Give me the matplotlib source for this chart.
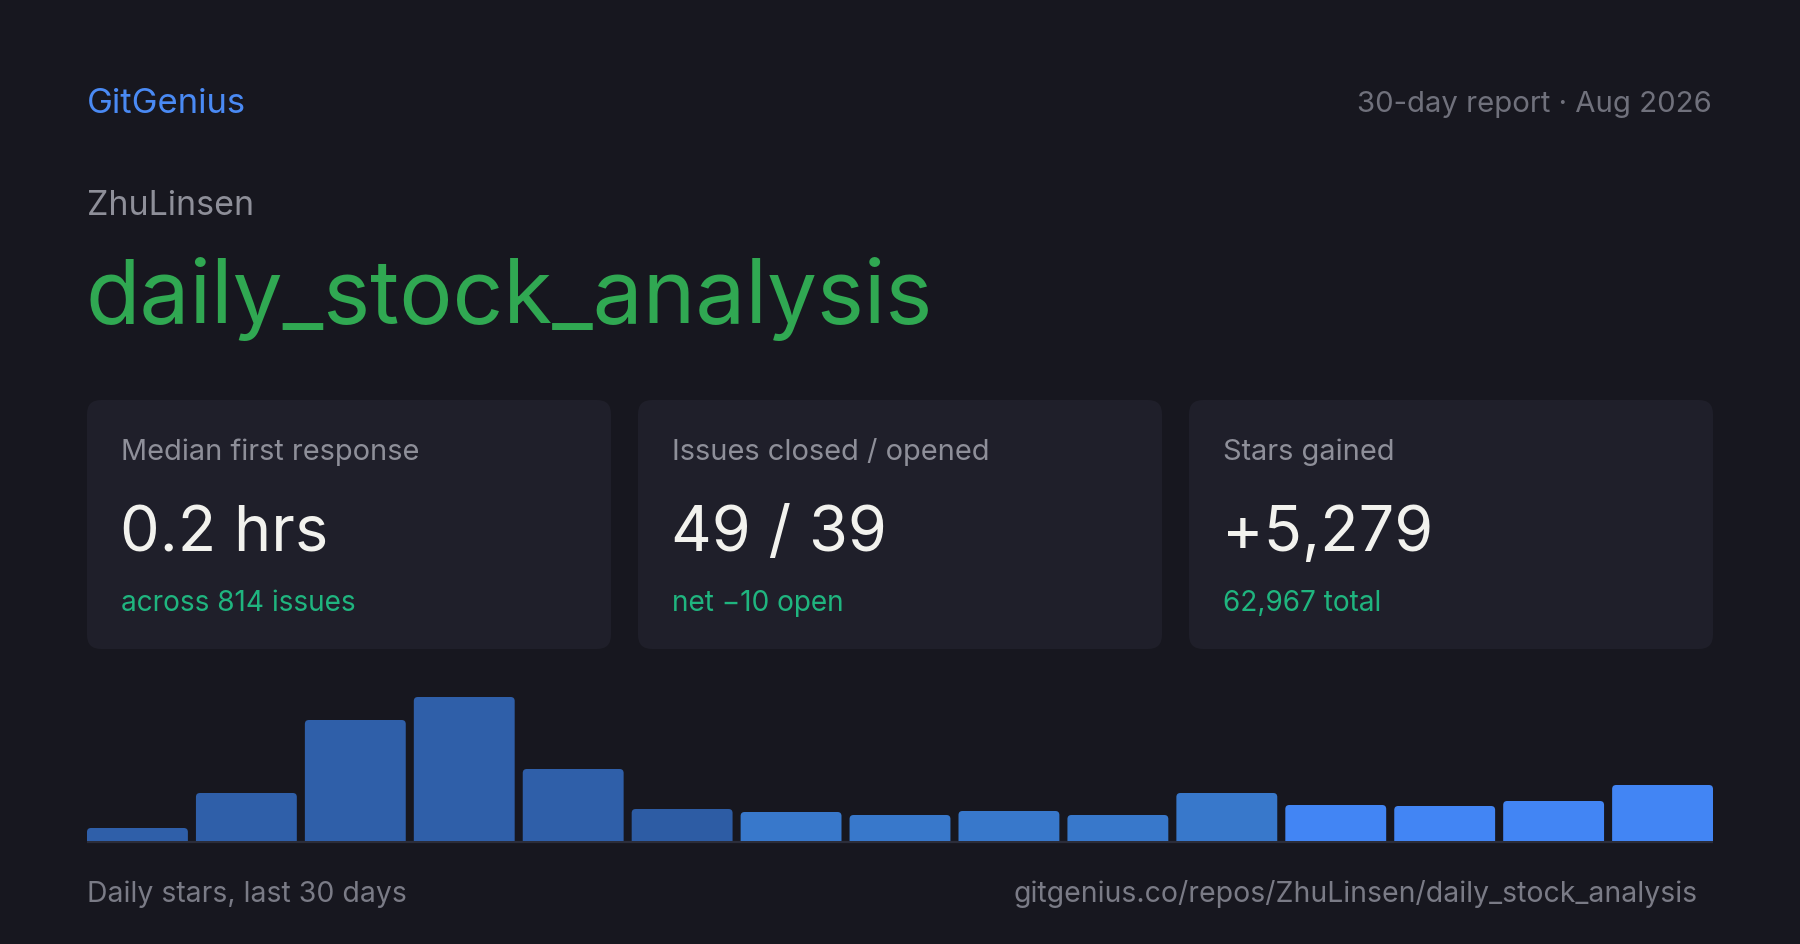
import matplotlib.pyplot as plt
from matplotlib.patches import FancyBboxPatch

# ---- data ----
owner = "ZhuLinsen"
repo = "daily_stock_analysis"
card_labels = ["Median first response", "Issues closed / opened", "Stars gained"]
card_values = ["0.2 hrs", "49 / 39", "+5,279"]
card_notes = ["across 814 issues", "net \u221210 open", "62,967 total"]
# stars per two-day bucket, last 30 days
stars = [91, 336, 847, 1008, 504, 224, 203, 182, 210, 182, 336, 252, 245, 280, 392]
bar_colors = ["#2f5fa9"] * 5 + ["#2d5ca4"] + ["#3878cb"] * 5 + ["#4285f4"] * 4

W, H = 1800, 945
BG = "#17171f"
CARD = "#1f1f2a"

plt.rcParams['font.family'] = ['Inter', 'DejaVu Sans']

fig = plt.figure(figsize=(W / 100, H / 100), dpi=100, facecolor=BG)

# pixel-space axes for text and cards
base = fig.add_axes([0, 0, 1, 1])
base.set_xlim(0, W)
base.set_ylim(H, 0)
base.axis('off')
base.set_facecolor(BG)


def px(size):
    return size * 0.72


base.text(87, 113, "GitGenius", color="#4a8af4", fontsize=px(34.7), va='baseline', ha='left')
base.text(1712, 112, "30-day report \u00b7 Aug 2026", color="#70717c", fontsize=px(29.3),
          va='baseline', ha='right')
base.text(87, 215, owner, color="#8e8f99", fontsize=px(34), va='baseline', ha='left')
base.text(85, 323, repo, color="#30a852", fontsize=px(89), va='baseline', ha='left')

card_x = [87, 638, 1189]
card_w = 524
for i in range(3):
    x0 = card_x[i]
    box = FancyBboxPatch((x0 + 14, 401 + 14), card_w - 28, 249 - 28,
                         boxstyle="round,pad=14", fc=CARD, ec='none')
    base.add_patch(box)
    base.text(x0 + 34, 460, card_labels[i], color="#8e8f99", fontsize=px(29),
              va='baseline', ha='left')
    base.text(x0 + 33, 551, card_values[i], color="#f2f2ee", fontsize=px(63),
              va='baseline', ha='left')
    base.text(x0 + 34, 611, card_notes[i], color="#1fb57f", fontsize=px(28),
              va='baseline', ha='left')

# baseline under the bars
base.plot([87, 1713], [843, 843], color="#2b2d3a", lw=1.6, solid_capstyle='butt')

base.text(87, 902, "Daily stars, last 30 days", color="#7a7b86", fontsize=px(28.4),
          va='baseline', ha='left')
base.text(1698, 902, "gitgenius.co/repos/%s/%s" % (owner, repo), color="#7a7b86",
          fontsize=px(28.4), va='baseline', ha='right')

# bar chart
bar_w = 0.926
ax = fig.add_axes([87 / W, (H - 842) / H, 1626 / W, 144 / H])
ax.patch.set_alpha(0)
bars = ax.bar(range(len(stars)), stars, width=bar_w, color=bar_colors, linewidth=0)
ax.set_xlim(-bar_w / 2, len(stars) - 1 + bar_w / 2)
ax.set_ylim(0, max(stars))
ax.axis('off')

# round the top corners (about 4 px); bottoms are pushed below the axis and clipped
x_per_px = (len(stars) - 1 + bar_w) / 1626
y_per_px = max(stars) / 144
r = 4 * x_per_px
for rect in bars:
    rect.set_visible(False)
    x, h = rect.get_x(), rect.get_height()
    drop = 6 * y_per_px
    rb = FancyBboxPatch((x, -drop), rect.get_width(), h + drop,
                        boxstyle="round,pad=0,rounding_size=%f" % r,
                        mutation_aspect=y_per_px / x_per_px,
                        fc=rect.get_facecolor(), ec='none')
    ax.add_patch(rb)

fig.savefig("out.png", dpi=100, facecolor=BG)
